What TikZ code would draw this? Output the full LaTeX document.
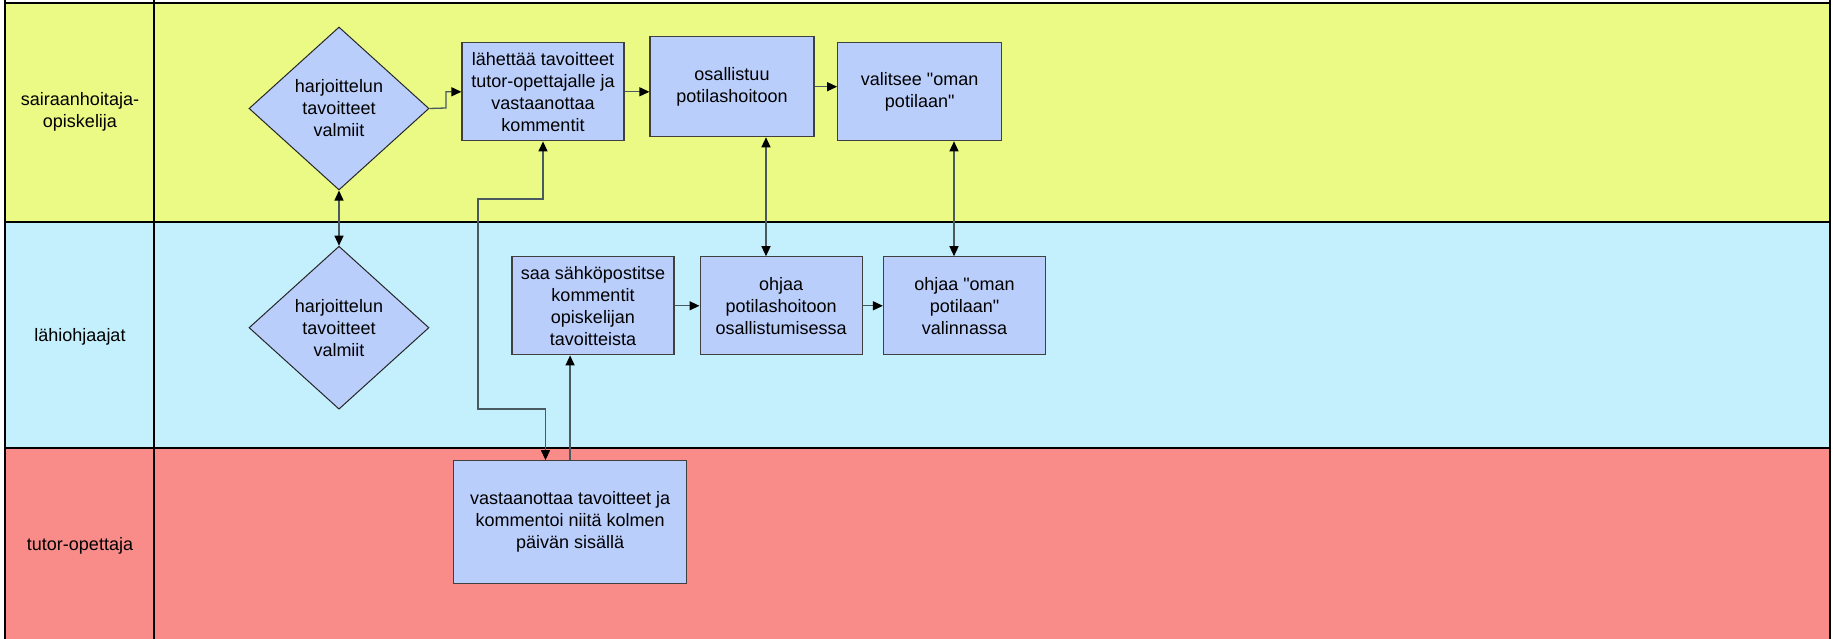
\documentclass[tikz,border=0pt]{standalone}
\usepackage{fontspec}
\setmainfont{Liberation Sans}
\usetikzlibrary{shapes.geometric,arrows.meta}
\definecolor{laneY}{HTML}{EBF985}
\definecolor{laneB}{HTML}{C4EFFC}
\definecolor{laneR}{HTML}{F98C89}
\definecolor{boxfill}{HTML}{BACEFC}
\definecolor{boxline}{HTML}{404040}
\definecolor{conn}{HTML}{4A5A60}
\begin{document}
\begin{tikzpicture}[x=1bp,y=-1bp,
  every node/.style={font=\fontsize{18bp}{22bp}\selectfont},
  procbox/.style={draw=boxline, fill=boxfill, line width=1.2bp, align=center, inner sep=0pt},
  decbox/.style={diamond, draw=black!85, fill=boxfill, line width=1bp, align=center, inner sep=0pt},
  lanelabel/.style={align=center},
  tip/.tip={Triangle[length=10bp,width=9bp,color=black]},
  flow/.style={draw=conn, line width=1.3bp, -tip},
  flowboth/.style={draw=conn, line width=1.3bp, tip-tip},
  laneline/.style={line width=1.6bp, draw=black}
]
\useasboundingbox (0,0) rectangle (1833,639);
% lanes
\fill[laneY] (5,3) rectangle (1830,222);
\fill[laneB] (5,222) rectangle (1830,448);
\fill[laneR] (5,448) rectangle (1830,639);
\draw[laneline] (5,3) -- (1830,3);
\draw[laneline] (5,222) -- (1830,222);
\draw[laneline] (5,448) -- (1830,448);
\draw[laneline] (5,0) -- (5,639);
\draw[laneline] (154,0) -- (154,639);
\draw[laneline] (1830,0) -- (1830,639);
% lane labels
\node[lanelabel] (l1) at (80,112) {sairaanhoitaja-\\opiskelija};
\node[lanelabel] (l2) at (80,337) {lähiohjaajat};
\node[lanelabel] (l3) at (80,546) {tutor-opettaja};
% shapes
\node[decbox, minimum width=180bp, minimum height=163bp] (d1) at (339,108.5) {harjoittelun\\tavoitteet\\valmiit};
\node[decbox, minimum width=180bp, minimum height=163bp] (d2) at (339,327.7) {harjoittelun\\tavoitteet\\valmiit};
\node[procbox, minimum width=162bp, minimum height=98bp] (A) at (543,91.8) {lähettää tavoitteet\\tutor-opettajalle ja\\vastaanottaa\\kommentit};
\node[procbox, minimum width=164bp, minimum height=100bp] (B) at (732,86.7) {osallistuu\\potilashoitoon};
\node[procbox, minimum width=164bp, minimum height=98bp] (C) at (919.7,91.7) {valitsee \textquotedbl oman\\potilaan\textquotedbl};
\node[procbox, minimum width=162bp, minimum height=98bp] (D) at (593,305.8) {saa sähköpostitse\\kommentit\\opiskelijan\\tavoitteista};
\node[procbox, minimum width=162bp, minimum height=98bp] (E) at (781.1,305.8) {ohjaa\\potilashoitoon\\osallistumisessa};
\node[procbox, minimum width=162bp, minimum height=98bp] (F) at (964.5,305.8) {ohjaa \textquotedbl oman\\potilaan\textquotedbl\\valinnassa};
\node[procbox, minimum width=233bp, minimum height=122.6bp] (G) at (570.1,522) {vastaanottaa tavoitteet ja\\kommentoi niitä kolmen\\päivän sisällä};
% helper coordinates
\coordinate (k1) at (446,108);
\coordinate (x1) at (766,0);
\coordinate (x2) at (954,0);
\coordinate (lp1) at (478,199);
\coordinate (lp2) at (545.5,409);
% connectors
\draw[flow] (d1.east) -- (k1) |- (A.west);
\draw[flow] (A.east) -- (A.east -| B.west);
\draw[flow] (B.east) -- (B.east -| C.west);
\draw[flow] (D.east) -- (E.west);
\draw[flow] (E.east) -- (F.west);
\draw[flowboth] (d1.south) -- (d2.north);
\draw[flowboth] (B.south -| x1) -- (E.north -| x1);
\draw[flowboth] (C.south -| x2) -- (F.north -| x2);
\draw[flowboth] (A.south) |- (lp1) |- (lp2) -- (lp2 |- G.north);
\draw[flow] (G.north) -- (G.north |- D.south);
\end{tikzpicture}
\end{document}
